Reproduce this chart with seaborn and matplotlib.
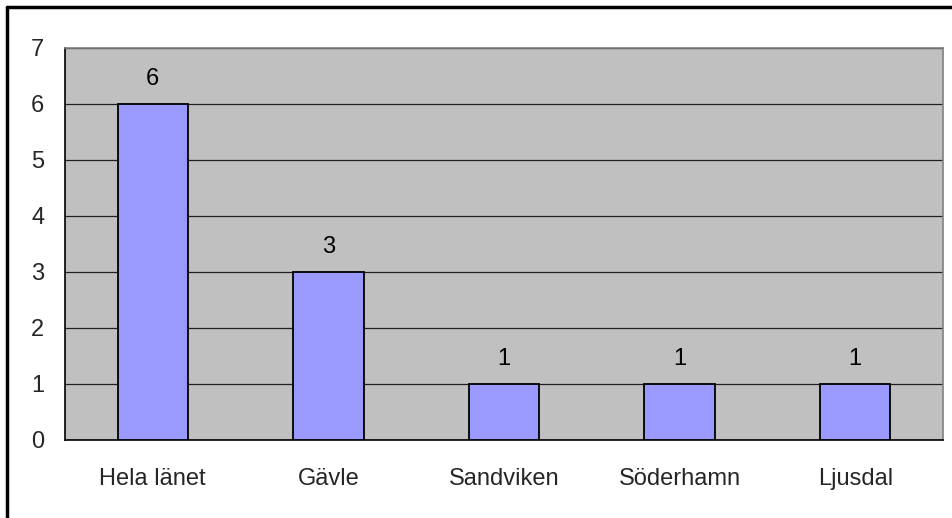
import matplotlib
matplotlib.use("Agg")
import matplotlib.pyplot as plt
import seaborn as sns
import pandas as pd

categories = ["Hela länet", "Gävle", "Sandviken", "Söderhamn", "Ljusdal"]
values = [6, 3, 1, 1, 1]
y_ticks = [0, 1, 2, 3, 4, 5, 6, 7]

df = pd.DataFrame({"kommun": categories, "antal": values})

sns.set_style("white")
plt.rcParams["font.family"] = ["Liberation Sans", "DejaVu Sans"]

FS = 17

fig = plt.figure(figsize=(9.53, 5.18), dpi=100)
ax = fig.add_axes([65 / 953, 1 - 440 / 518, (943 - 65) / 953, (440 - 48) / 518])
ax.set_facecolor("#C0C0C0")

sns.barplot(data=df, x="kommun", y="antal", color="#9999FF", width=0.4,
            edgecolor="black", linewidth=1.3, saturation=1, ax=ax, zorder=3)

for i, v in enumerate(values):
    ax.text(i, v + 0.34, str(v), ha="center", va="baseline", fontsize=FS, color="black")

ax.set_ylim(0, 7)
ax.set_xlim(-0.5, len(categories) - 0.5)
ax.set_yticks(y_ticks)
ax.yaxis.grid(True, color="#202020", linewidth=0.9, zorder=0)
ax.set_axisbelow(True)
ax.set_xlabel("")
ax.set_ylabel("")

ax.set_xticks([i - 0.5 for i in range(len(categories) + 1)], minor=True)
ax.tick_params(axis="x", which="major", length=0, pad=20, labelsize=FS)
ax.tick_params(axis="x", which="minor", length=6, width=1, color="black", direction="out")
ax.tick_params(axis="y", length=8, width=1, color="black", direction="out", labelsize=FS, pad=7)

ax.spines["left"].set_color("black")
ax.spines["bottom"].set_color("black")
ax.spines["top"].set_color("#808080")
ax.spines["right"].set_color("#808080")
for s in ax.spines.values():
    s.set_linewidth(1.2)
    s.set_visible(True)

# outer frame of the chart area
fig.add_artist(plt.Line2D([7.5 / 953, 7.5 / 953], [0, 1 - 7 / 518], color="black", linewidth=2.5))
fig.add_artist(plt.Line2D([7.5 / 953, 1], [1 - 7 / 518, 1 - 7 / 518], color="black", linewidth=2.5))

fig.savefig("out.png", dpi=100)
